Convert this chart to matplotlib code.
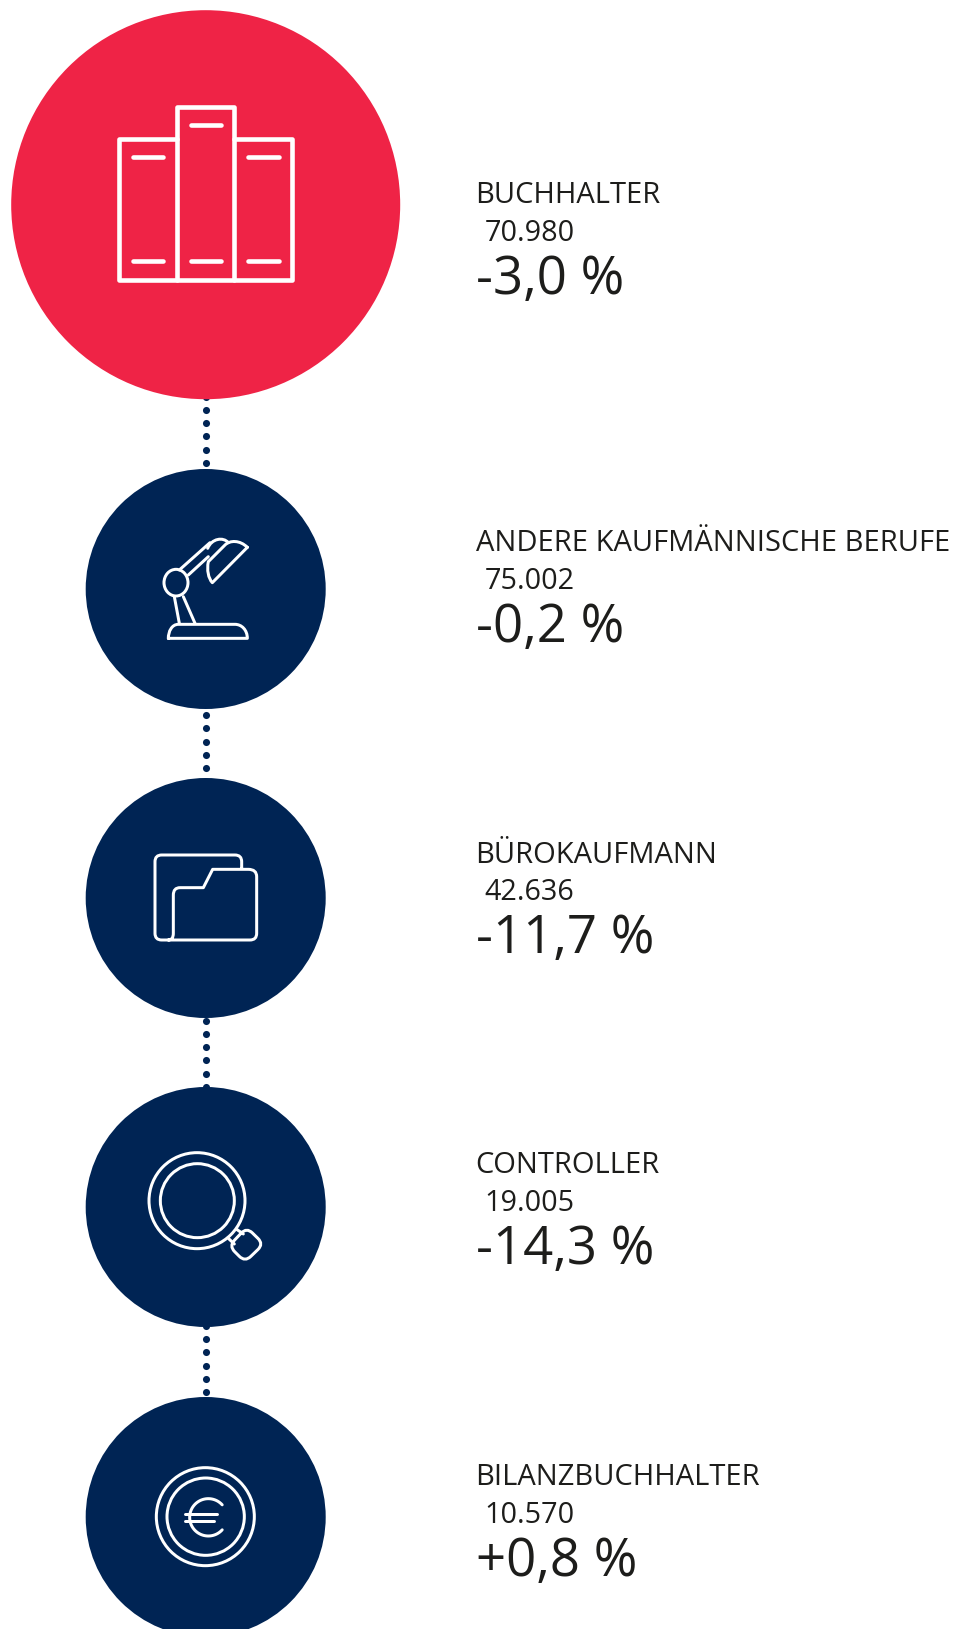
#!/usr/bin/env python3
"""Berufe: Stellenzahl und Veraenderung, Kreise mit Icons."""

import matplotlib
matplotlib.use("Agg")
import matplotlib.pyplot as plt
import numpy as np
from matplotlib.patches import Circle, Ellipse, PathPatch
from matplotlib.path import Path

# Data
BERUFE = ["BUCHHALTER", "ANDERE KAUFMÄNNISCHE BERUFE", "BÜROKAUFMANN", "CONTROLLER", "BILANZBUCHHALTER"]
ANZAHL = [70980, 75002, 42636, 19005, 10570]
AENDERUNG = [-3.0, -0.2, -11.7, -14.3, 0.8]

# Colors
RED = "#EF2346"
NAVY = "#002454"
TEXT = "#1d1d1b"
WHITE = "white"

# Layout, in pixels of the 960x1629 picture
CX = 205.7
CIRCLE_Y = [204.7, 589, 898, 1207, 1517]
CIRCLE_R = [194.5, 120, 120, 120, 120]
TEXT_BASE = [202.3, 550, 861.5, 1172, 1484]
NUM_X = [485, 485, 484, 484.5, 484.5]
DOT_END = [463, 768.3, 1087, 1392.3]
DOT_STEP = 13.3

plt.rcParams["font.family"] = ["Open Sans", "DejaVu Sans"]

fig = plt.figure(figsize=(9.6, 16.29), dpi=100)
ax = fig.add_axes([0, 0, 1, 1])
ax.set_xlim(0, 960)
ax.set_ylim(1629, 0)
ax.axis("off")


def stroke(verts, codes=None, lw=3.0, x0=0, y0=0, scale=1.0):
    # zoom crop coords -> picture coords
    pts = np.array(verts, dtype=float) / scale + [x0, y0]
    if codes is None:
        codes = [Path.MOVETO] + [Path.LINETO] * (len(pts) - 1)
    ax.add_patch(PathPatch(Path(pts, codes), fc="none", ec=WHITE, lw=lw * 0.72,
                           capstyle="round", joinstyle="round", zorder=5))


def ring(cx, cy, r, lw=3.0):
    ax.add_patch(Circle((cx, cy), r, fc="none", ec=WHITE, lw=lw * 0.72, zorder=5))


def rounded_poly(pts, r):
    # closed polygon with quadratic corners
    pts = np.array(pts, dtype=float)
    verts, codes = [], []
    n = len(pts)
    for i in range(n):
        p, a, b = pts[i], pts[i - 1], pts[(i + 1) % n]
        s = p + (a - p) / np.linalg.norm(a - p) * r
        e = p + (b - p) / np.linalg.norm(b - p) * r
        verts += [s, p, e]
        codes += [Path.MOVETO if i == 0 else Path.LINETO, Path.CURVE3, Path.CURVE3]
    verts.append(verts[0])
    codes.append(Path.LINETO)
    return verts, codes


# ── Dotted connectors ──
for end in DOT_END:
    ys = end - DOT_STEP * np.arange(6)
    ax.scatter([CX] * len(ys), ys, s=26, color=NAVY, linewidths=0, zorder=1)

# ── Circles ──
for i, (y, r) in enumerate(zip(CIRCLE_Y, CIRCLE_R)):
    ax.add_patch(Circle((CX, y), r, fc=RED if i == 0 else NAVY, ec="none", zorder=2))

# ── Icon 1: books ──
bk = dict(lw=4.6)
stroke([(177, 139), (119, 139), (119, 280), (292.3, 280), (292.3, 139), (234.3, 139)], **bk)
stroke([(177, 280), (177, 107.3), (234.3, 107.3), (234.3, 280)], **bk)
for x1, x2, y_top in [(132.7, 163.3, 156.7), (190.7, 221, 125), (248.3, 279, 156.7)]:
    stroke([(x1, y_top), (x2, y_top)], **bk)
    stroke([(x1, 260.7), (x2, 260.7)], **bk)

# ── Icon 2: lamp ──
lamp = dict(x0=140, y0=520, scale=3)
C3, C4, M, L = Path.CURVE3, Path.CURVE4, Path.MOVETO, Path.LINETO
stroke([(85, 355), (322, 355), (322, 330), (305, 313), (285, 313), (115, 313), (95, 313), (85, 335), (85, 355)],
       [M, L, C4, C4, C4, L, C4, C4, C4], **lamp)
ax.add_patch(Ellipse((140 + 108 / 3, 520 + 188 / 3), 72 / 3, 80 / 3,
                     fc="none", ec=WHITE, lw=3.0 * 0.72, zorder=5))
stroke([(103, 230), (118, 310)], **lamp)
stroke([(130, 230), (165, 310)], **lamp)
stroke([(118, 150), (210, 68)], **lamp)
stroke([(145, 165), (205, 110)], **lamp)
stroke([(203, 85), (215, 55), (250, 50), (265, 68)], [M, C4, C4, C4], **lamp)
stroke([(322, 82), (300, 60), (270, 60), (255, 75), (205, 125), (200, 150), (205, 175), (217, 188), (322, 82)],
       [M, C4, C4, C4, L, C4, C4, C4, L], **lamp)

# ── Icon 3: folder ──
folder = dict(x0=140, y0=840, scale=3)
stroke([(305, 85), (305, 65), (305, 45), (285, 45), (65, 45), (45, 45), (45, 65), (45, 280), (45, 300), (65, 300),
        (330, 300), (350, 300), (350, 280), (350, 110), (350, 88), (325, 88), (218, 88), (190, 143), (120, 143),
        (100, 143), (100, 165), (100, 280), (100, 300), (85, 300)],
       [M, L, C3, C3, L, C3, C3, L, C3, C3, L, C3, C3, L, C3, C3, L, L, L, C3, C3, L, C3, C3], **folder)

# ── Icon 4: magnifier ──
ring(135 + 186 / 3, 1140 + 182 / 3, 144 / 3)
ring(135 + 187 / 3, 1140 + 182 / 3, 111 / 3)
mag = dict(x0=135, y0=1140, scale=3)
stroke([(305, 268), (325, 282)], **mag)
stroke([(280, 295), (298, 312)], **mag)
v, c = rounded_poly([(335, 262), (386, 312), (330, 366), (282, 318)], 24)
stroke(v, c, **mag)

# ── Icon 5: euro ──
ring(145 + 181 / 3, 1460 + 170 / 3, 147 / 3)
ring(145 + 182 / 3, 1460 + 170 / 3, 116 / 3)
eur = dict(x0=145, y0=1460, scale=3)
theta = np.radians(np.linspace(42, 318, 60))
stroke(np.c_[190 + 56 * np.cos(theta), 172 - 56 * np.sin(theta)], lw=3.0, **eur)
stroke([(120, 162), (215, 162)], lw=3.0, **eur)
stroke([(120, 182), (208, 182)], lw=3.0, **eur)

# ── Text ──
for i, beruf in enumerate(BERUFE):
    base = TEXT_BASE[i]
    anzahl = f"{ANZAHL[i]:,}".replace(",", ".")
    delta = f"{AENDERUNG[i]:+.1f}".replace(".", ",") + " %"
    ax.text(475.5, base + 1, beruf, fontsize=21, color=TEXT, ha="left", va="baseline")
    ax.text(NUM_X[i], base + 38.7, anzahl, fontsize=20.7, color=TEXT, ha="left", va="baseline")
    ax.text(475.5, base + 91.7, delta, fontsize=38, color=TEXT, ha="left", va="baseline", fontweight="medium")

fig.savefig("out.png", dpi=100, facecolor=WHITE)
